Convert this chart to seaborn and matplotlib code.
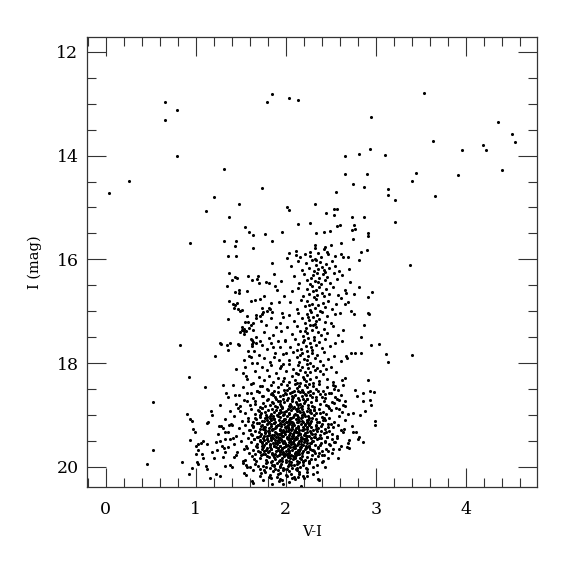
"""
cmd_plot.py

Colour-magnitude diagram (I vs V-I) redrawn from a published figure.
Star positions were read off the picture by eye, grouped by region.
"""

import matplotlib
matplotlib.use("Agg")
import matplotlib.pyplot as plt
import pandas as pd
import seaborn as sns
from matplotlib.ticker import MultipleLocator

# ---------------------------- DATA (V-I, I) ---------------------------

# bright / sparse stars, I < 15.8
bright = [
    (0.66, 12.96), (0.79, 13.13), (0.66, 13.32), (0.79, 14.00), (0.26, 14.49),
    (0.04, 14.72), (1.31, 14.26), (1.74, 14.63), (1.20, 14.79), (1.48, 14.94),
    (1.11, 15.06), (1.37, 15.18), (2.01, 15.00), (2.04, 15.04), (2.14, 15.31),
    (1.55, 15.38), (1.59, 15.47), (1.64, 15.53), (1.77, 15.52), (1.96, 15.47),
    (1.85, 15.65), (1.31, 15.64), (1.45, 15.65), (1.44, 15.74), (1.64, 15.78),
    (0.94, 15.68), (1.79, 12.97), (1.85, 12.82), (2.04, 12.89), (2.14, 12.93),
    (3.53, 12.80), (2.95, 13.25), (4.36, 13.36), (4.51, 13.58), (4.55, 13.73),
    (3.64, 13.71), (3.96, 13.89), (4.19, 13.80), (4.22, 13.90), (4.40, 14.27),
    (2.66, 14.00), (2.81, 13.96), (2.93, 13.87), (3.10, 13.98), (2.66, 14.36),
    (2.90, 14.36), (2.75, 14.55), (2.87, 14.61), (3.45, 14.33), (3.40, 14.49),
    (3.91, 14.38), (3.66, 14.77), (3.13, 14.65), (3.14, 14.76), (3.21, 14.85),
    (3.21, 15.29), (2.56, 14.71), (2.32, 14.94), (2.45, 15.10), (2.53, 15.14),
    (2.54, 15.03), (2.57, 15.03), (2.27, 15.30), (2.57, 15.35), (2.60, 15.33),
    (2.74, 15.19), (2.87, 15.19), (2.76, 15.33), (2.77, 15.42), (2.73, 15.43),
    (2.33, 15.50), (2.42, 15.48), (2.49, 15.46), (2.91, 15.49), (2.91, 15.56),
    (2.75, 15.60), (2.61, 15.69), (2.32, 15.72), (2.32, 15.78), (2.44, 15.76),
    (2.50, 15.72),
]

# blue arm and the gap between the two branches, 15.8 < I < 18.4
blue_arm = [
    (1.36, 15.94), (1.45, 15.93), (1.85, 16.07), (1.37, 16.27), (1.44, 16.35),
    (1.46, 16.36), (1.40, 16.39), (1.58, 16.32), (1.62, 16.39), (1.68, 16.37),
    (1.70, 16.46), (1.78, 16.43), (1.81, 16.46), (1.87, 16.28), (1.69, 16.33),
    (1.35, 16.51), (1.48, 16.59), (1.44, 16.63), (1.48, 16.65), (1.57, 16.62),
    (1.90, 16.60), (1.37, 16.80), (1.46, 16.85), (1.41, 16.86), (1.42, 16.93),
    (1.61, 16.80), (1.66, 16.78), (1.71, 16.77), (1.44, 16.89), (1.47, 16.96),
    (1.51, 16.98), (1.49, 16.99), (1.36, 17.15), (1.57, 17.10), (1.58, 17.20),
    (1.55, 17.21), (1.67, 17.07), (1.75, 17.02), (1.79, 16.99), (1.82, 16.96),
    (1.85, 17.02), (1.81, 16.93), (1.73, 17.05), (1.71, 17.09), (1.67, 17.13),
    (1.64, 17.23), (1.61, 17.26), (1.59, 17.32), (1.56, 17.39), (1.53, 17.39),
    (1.51, 17.36), (1.51, 17.30), (1.49, 17.40), (1.54, 17.35), (1.54, 17.44),
    (1.61, 17.54), (1.62, 17.63), (1.64, 17.60), (1.27, 17.62), (1.38, 17.61),
    (1.36, 17.74), (1.47, 17.63), (1.21, 17.87), (0.82, 17.66), (1.63, 17.36),
    (1.67, 17.49), (1.62, 17.55), (1.67, 17.61), (1.62, 17.68), (1.65, 17.77),
    (1.61, 17.89), (1.62, 18.00), (1.59, 17.87), (1.28, 17.63), (1.35, 17.65),
    (1.48, 17.66), (1.52, 18.19), (0.93, 18.26), (1.72, 17.18), (1.78, 17.27),
    (1.84, 17.14), (1.89, 17.31), (1.93, 17.22), (1.97, 17.12), (1.76, 17.41),
    (1.81, 17.52), (1.86, 17.45), (1.91, 17.58), (1.95, 17.39), (1.71, 17.57),
    (1.74, 17.66), (1.79, 17.73), (1.83, 17.62), (1.88, 17.80), (1.93, 17.69),
    (1.70, 17.84), (1.76, 17.91), (1.82, 17.97), (1.87, 17.88), (1.92, 17.95),
    (1.68, 17.99), (1.73, 18.07), (1.79, 18.14), (1.84, 18.04), (1.89, 18.19),
    (1.94, 18.10), (1.66, 18.16), (1.70, 18.27), (1.76, 18.32), (1.81, 18.24),
    (1.86, 18.36), (1.91, 18.29), (1.97, 18.35), (1.57, 18.31), (1.63, 18.38),
    (1.55, 18.08), (1.58, 17.76), (1.53, 17.95), (1.45, 18.12), (1.56, 18.24),
    (1.99, 17.55), (2.00, 17.81), (1.96, 17.04), (1.92, 16.82), (1.98, 16.70),
    (1.88, 16.52), (1.95, 16.41), (1.76, 16.70), (1.84, 16.85), (1.74, 16.94),
    (1.97, 18.02), (1.86, 17.70),
]

# red giant branch, 15.8 < I < 18.4
giant_branch = [
    (2.03, 15.88), (2.01, 15.98), (2.11, 15.83), (2.11, 15.92), (2.16, 15.96),
    (2.27, 15.85), (2.27, 15.94), (2.36, 15.87), (2.39, 15.95), (2.42, 15.81),
    (2.47, 15.90), (2.46, 15.86), (2.55, 15.93), (2.32, 15.99), (2.21, 15.90),
    (2.61, 15.89), (2.63, 15.96), (2.69, 15.96), (2.90, 15.82), (2.83, 15.85),
    (2.06, 16.12), (2.13, 16.04), (2.18, 16.20), (2.22, 16.08), (2.26, 16.16),
    (2.29, 16.02), (2.31, 16.23), (2.34, 16.10), (2.36, 16.18), (2.38, 16.05),
    (2.40, 16.14), (2.42, 16.21), (2.45, 16.09), (2.48, 16.17), (2.51, 16.03),
    (2.55, 16.13), (2.59, 16.22), (2.81, 16.02), (2.70, 16.19), (2.33, 16.01),
    (2.44, 16.24), (2.09, 16.33), (2.15, 16.45), (2.20, 16.28), (2.24, 16.39),
    (2.27, 16.47), (2.30, 16.31), (2.32, 16.42), (2.35, 16.26), (2.37, 16.36),
    (2.39, 16.48), (2.41, 16.29), (2.43, 16.40), (2.46, 16.34), (2.49, 16.46),
    (2.53, 16.27), (2.57, 16.38), (2.71, 16.44), (2.28, 16.36), (2.36, 16.44),
    (2.62, 16.31), (2.07, 16.62), (2.14, 16.55), (2.19, 16.70), (2.23, 16.58),
    (2.26, 16.67), (2.29, 16.52), (2.31, 16.73), (2.33, 16.60), (2.35, 16.68),
    (2.37, 16.54), (2.40, 16.64), (2.42, 16.71), (2.45, 16.57), (2.48, 16.66),
    (2.52, 16.53), (2.58, 16.69), (2.81, 16.54), (2.96, 16.63), (2.76, 16.67),
    (2.66, 16.60), (2.67, 16.65), (2.91, 16.73), (2.30, 16.62), (2.05, 16.83),
    (2.12, 16.96), (2.17, 16.78), (2.21, 16.90), (2.24, 16.81), (2.27, 16.98),
    (2.29, 16.86), (2.32, 16.93), (2.34, 16.77), (2.36, 16.88), (2.38, 16.99),
    (2.41, 16.84), (2.44, 16.92), (2.47, 16.80), (2.51, 16.95), (2.56, 16.87),
    (2.61, 16.75), (2.69, 16.82), (2.66, 16.86), (2.72, 17.00), (2.26, 16.89),
    (2.03, 17.08), (2.09, 17.19), (2.14, 17.03), (2.18, 17.14), (2.21, 17.22),
    (2.23, 17.06), (2.26, 17.17), (2.28, 17.01), (2.30, 17.11), (2.32, 17.24),
    (2.35, 17.07), (2.37, 17.16), (2.40, 17.02), (2.43, 17.20), (2.46, 17.10),
    (2.50, 17.23), (2.55, 17.05), (2.60, 17.04), (2.76, 17.05), (2.91, 17.03),
    (2.92, 17.06), (2.25, 17.12), (2.33, 17.18), (2.01, 17.31), (2.07, 17.44),
    (2.12, 17.28), (2.16, 17.38), (2.19, 17.47), (2.22, 17.33), (2.24, 17.42),
    (2.27, 17.27), (2.29, 17.36), (2.31, 17.49), (2.33, 17.30), (2.36, 17.40),
    (2.39, 17.46), (2.42, 17.34), (2.46, 17.43), (2.52, 17.29), (2.58, 17.45),
    (2.87, 17.27), (2.84, 17.49), (2.21, 17.39), (2.30, 17.26), (2.64, 17.37),
    (1.99, 17.58), (2.05, 17.70), (2.10, 17.53), (2.14, 17.64), (2.17, 17.73),
    (2.20, 17.56), (2.22, 17.67), (2.25, 17.52), (2.27, 17.61), (2.29, 17.74),
    (2.31, 17.55), (2.34, 17.66), (2.37, 17.59), (2.40, 17.71), (2.44, 17.54),
    (2.49, 17.68), (2.55, 17.62), (2.95, 17.66), (3.03, 17.64), (2.19, 17.60),
    (2.28, 17.69), (2.12, 17.75), (2.62, 17.57), (1.97, 17.83), (2.03, 17.95),
    (2.08, 17.78), (2.12, 17.89), (2.15, 17.98), (2.18, 17.81), (2.20, 17.92),
    (2.23, 17.77), (2.25, 17.86), (2.27, 17.99), (2.29, 17.80), (2.32, 17.91),
    (2.35, 17.84), (2.38, 17.96), (2.42, 17.79), (2.47, 17.93), (2.53, 17.87),
    (2.83, 17.81), (2.77, 17.81), (2.72, 17.81), (2.67, 17.86), (2.68, 17.91),
    (2.61, 17.96), (3.11, 17.83), (2.16, 17.85), (2.24, 17.94), (1.95, 18.06),
    (2.00, 18.15), (2.04, 18.02), (2.08, 18.11), (2.11, 18.19), (2.14, 18.04),
    (2.16, 18.13), (2.18, 18.08), (2.21, 18.17), (2.23, 18.01), (2.25, 18.10),
    (2.27, 18.18), (2.30, 18.05), (2.32, 18.14), (2.35, 18.09), (2.38, 18.16),
    (2.41, 18.03), (2.45, 18.12), (2.50, 18.07), (2.56, 18.18), (1.98, 18.28),
    (2.03, 18.36), (2.07, 18.24), (2.10, 18.33), (2.13, 18.21), (2.16, 18.38),
    (2.19, 18.27), (2.22, 18.35), (2.24, 18.23), (2.27, 18.31), (2.30, 18.38),
    (2.33, 18.26), (2.37, 18.34), (2.41, 18.22), (2.46, 18.30), (2.52, 18.37),
    (2.20, 18.30), (2.12, 18.39),
]

# main clump of faint stars, 18.4 < I < 20.4
core = [
    # 18.40 - 18.55
    (1.52, 18.47), (1.61, 18.41), (1.68, 18.53), (1.74, 18.44), (1.79, 18.50),
    (1.83, 18.42), (1.87, 18.54), (1.91, 18.46), (1.95, 18.40), (1.98, 18.51),
    (2.01, 18.43), (2.04, 18.48), (2.07, 18.55), (2.10, 18.41), (2.12, 18.49),
    (2.15, 18.45), (2.18, 18.52), (2.21, 18.42), (2.24, 18.47), (2.27, 18.54),
    (2.30, 18.44), (2.33, 18.50), (2.37, 18.41), (2.41, 18.53), (2.46, 18.46),
    (2.52, 18.43), (2.58, 18.51), (1.71, 18.45), (2.13, 18.53), (2.26, 18.40),
    # 18.55 - 18.70
    (1.48, 18.62), (1.57, 18.58), (1.64, 18.67), (1.70, 18.56), (1.75, 18.64),
    (1.80, 18.69), (1.84, 18.59), (1.88, 18.66), (1.91, 18.55), (1.94, 18.63),
    (1.97, 18.70), (2.00, 18.60), (2.02, 18.67), (2.05, 18.57), (2.08, 18.65),
    (2.10, 18.61), (2.13, 18.68), (2.16, 18.56), (2.18, 18.64), (2.21, 18.59),
    (2.24, 18.69), (2.27, 18.62), (2.30, 18.57), (2.34, 18.66), (2.38, 18.60),
    (2.43, 18.68), (2.48, 18.58), (2.55, 18.65), (2.61, 18.61), (1.86, 18.62),
    (2.07, 18.69), (2.19, 18.55), (1.99, 18.58), (2.29, 18.65),
    # 18.70 - 18.85
    (1.45, 18.78), (1.53, 18.72), (1.60, 18.81), (1.66, 18.74), (1.71, 18.84),
    (1.75, 18.77), (1.79, 18.71), (1.82, 18.80), (1.85, 18.75), (1.88, 18.83),
    (1.91, 18.73), (1.93, 18.79), (1.96, 18.85), (1.98, 18.76), (2.01, 18.71),
    (2.03, 18.82), (2.05, 18.78), (2.07, 18.73), (2.09, 18.84), (2.11, 18.76),
    (2.13, 18.80), (2.15, 18.72), (2.18, 18.83), (2.20, 18.77), (2.23, 18.70),
    (2.25, 18.81), (2.28, 18.75), (2.31, 18.84), (2.34, 18.72), (2.38, 18.79),
    (2.42, 18.74), (2.47, 18.82), (2.53, 18.77), (2.59, 18.71), (1.94, 18.74),
    (2.06, 18.83), (2.16, 18.78), (1.77, 18.82), (2.21, 18.73), (2.66, 18.83),
    # 18.85 - 19.00
    (1.38, 18.92), (1.47, 18.87), (1.55, 18.96), (1.61, 18.89), (1.66, 18.99),
    (1.70, 18.93), (1.74, 18.86), (1.77, 18.95), (1.80, 18.90), (1.83, 18.98),
    (1.85, 18.88), (1.87, 18.94), (1.90, 18.85), (1.92, 18.97), (1.94, 18.91),
    (1.96, 18.87), (1.98, 18.99), (2.00, 18.93), (2.02, 18.88), (2.04, 18.96),
    (2.06, 18.90), (2.08, 18.86), (2.10, 18.98), (2.12, 18.92), (2.14, 18.87),
    (2.16, 18.95), (2.18, 18.89), (2.20, 18.99), (2.23, 18.93), (2.25, 18.86),
    (2.28, 18.96), (2.31, 18.90), (2.34, 18.97), (2.37, 18.88), (2.41, 18.94),
    (2.45, 18.99), (2.50, 18.91), (2.56, 18.87), (2.62, 18.95), (1.89, 18.91),
    (2.03, 18.99), (2.11, 18.89), (2.19, 18.94), (1.95, 18.95), (2.27, 18.91),
    (1.72, 18.97),
    # 19.00 - 19.15
    (1.33, 19.07), (1.43, 19.02), (1.51, 19.11), (1.58, 19.05), (1.63, 19.14),
    (1.67, 19.08), (1.71, 19.01), (1.74, 19.12), (1.77, 19.06), (1.80, 19.15),
    (1.82, 19.03), (1.84, 19.10), (1.86, 19.05), (1.88, 19.13), (1.90, 19.00),
    (1.92, 19.09), (1.94, 19.04), (1.96, 19.12), (1.98, 19.07), (2.00, 19.14),
    (2.01, 19.02), (2.03, 19.10), (2.05, 19.06), (2.07, 19.13), (2.09, 19.01),
    (2.11, 19.08), (2.13, 19.04), (2.15, 19.11), (2.17, 19.06), (2.19, 19.14),
    (2.21, 19.03), (2.23, 19.09), (2.26, 19.05), (2.28, 19.12), (2.31, 19.01),
    (2.34, 19.08), (2.37, 19.14), (2.40, 19.04), (2.44, 19.10), (2.48, 19.06),
    (2.53, 19.13), (2.59, 19.02), (2.66, 19.09), (1.87, 19.08), (1.97, 19.01),
    (2.04, 19.12), (2.12, 19.14), (2.18, 19.00), (1.79, 19.10), (2.24, 19.13),
    (2.08, 19.04), (1.93, 19.15),
    # 19.15 - 19.30
    (1.28, 19.22), (1.39, 19.17), (1.48, 19.26), (1.55, 19.19), (1.60, 19.29),
    (1.64, 19.23), (1.68, 19.16), (1.71, 19.27), (1.74, 19.20), (1.77, 19.30),
    (1.79, 19.18), (1.81, 19.25), (1.83, 19.21), (1.85, 19.28), (1.87, 19.15),
    (1.89, 19.24), (1.91, 19.19), (1.93, 19.27), (1.95, 19.22), (1.97, 19.29),
    (1.98, 19.17), (2.00, 19.25), (2.02, 19.20), (2.04, 19.28), (2.05, 19.16),
    (2.07, 19.23), (2.09, 19.19), (2.11, 19.26), (2.13, 19.21), (2.15, 19.29),
    (2.17, 19.18), (2.19, 19.24), (2.21, 19.20), (2.23, 19.27), (2.25, 19.16),
    (2.28, 19.23), (2.30, 19.29), (2.33, 19.19), (2.36, 19.25), (2.39, 19.21),
    (2.43, 19.28), (2.47, 19.17), (2.52, 19.24), (2.58, 19.20), (2.65, 19.27),
    (2.73, 19.22), (1.84, 19.17), (1.94, 19.30), (2.01, 19.22), (2.08, 19.15),
    (2.14, 19.24), (2.20, 19.28), (1.76, 19.23), (1.88, 19.26), (2.26, 19.19),
    (2.03, 19.18), (2.10, 19.30), (1.62, 19.20),
    # 19.30 - 19.45
    (1.25, 19.37), (1.36, 19.32), (1.45, 19.41), (1.52, 19.35), (1.58, 19.44),
    (1.62, 19.38), (1.66, 19.31), (1.69, 19.42), (1.72, 19.36), (1.75, 19.45),
    (1.77, 19.33), (1.79, 19.40), (1.81, 19.35), (1.83, 19.43), (1.85, 19.30),
    (1.87, 19.39), (1.89, 19.34), (1.91, 19.42), (1.92, 19.37), (1.94, 19.44),
    (1.96, 19.32), (1.97, 19.40), (1.99, 19.36), (2.01, 19.43), (2.02, 19.31),
    (2.04, 19.38), (2.05, 19.34), (2.07, 19.41), (2.08, 19.37), (2.10, 19.44),
    (2.11, 19.32), (2.13, 19.39), (2.15, 19.35), (2.17, 19.42), (2.18, 19.30),
    (2.20, 19.38), (2.22, 19.44), (2.24, 19.33), (2.26, 19.40), (2.29, 19.36),
    (2.32, 19.43), (2.35, 19.31), (2.38, 19.39), (2.42, 19.35), (2.46, 19.42),
    (2.51, 19.37), (2.57, 19.44), (2.64, 19.32), (1.86, 19.44), (1.95, 19.38),
    (2.03, 19.45), (2.09, 19.33), (2.16, 19.37), (2.23, 19.41), (1.80, 19.31),
    (1.98, 19.33), (2.12, 19.44), (2.06, 19.30), (1.90, 19.36), (2.28, 19.45),
    (1.71, 19.40),
    # 19.45 - 19.60
    (1.22, 19.52), (1.33, 19.47), (1.42, 19.56), (1.50, 19.50), (1.56, 19.59),
    (1.61, 19.53), (1.65, 19.46), (1.68, 19.57), (1.71, 19.51), (1.74, 19.60),
    (1.76, 19.48), (1.78, 19.55), (1.80, 19.50), (1.82, 19.58), (1.84, 19.45),
    (1.86, 19.54), (1.88, 19.49), (1.90, 19.57), (1.92, 19.52), (1.93, 19.59),
    (1.95, 19.47), (1.97, 19.55), (1.98, 19.51), (2.00, 19.58), (2.02, 19.46),
    (2.03, 19.53), (2.05, 19.49), (2.06, 19.56), (2.08, 19.52), (2.10, 19.59),
    (2.11, 19.47), (2.13, 19.54), (2.15, 19.50), (2.17, 19.57), (2.18, 19.45),
    (2.20, 19.53), (2.22, 19.59), (2.24, 19.48), (2.27, 19.55), (2.29, 19.51),
    (2.32, 19.58), (2.35, 19.46), (2.39, 19.54), (2.43, 19.50), (2.48, 19.57),
    (2.54, 19.52), (2.61, 19.59), (2.80, 19.47), (1.87, 19.59), (1.96, 19.50),
    (2.04, 19.60), (2.09, 19.48), (2.14, 19.56), (2.21, 19.50), (1.79, 19.46),
    (1.99, 19.54), (2.07, 19.45), (2.12, 19.58), (1.91, 19.48), (2.26, 19.60),
    (1.73, 19.55),
    # 19.60 - 19.75
    (1.24, 19.67), (1.36, 19.62), (1.46, 19.71), (1.53, 19.65), (1.59, 19.74),
    (1.64, 19.68), (1.68, 19.61), (1.71, 19.72), (1.74, 19.66), (1.77, 19.75),
    (1.79, 19.63), (1.81, 19.70), (1.83, 19.65), (1.85, 19.73), (1.87, 19.60),
    (1.89, 19.69), (1.91, 19.64), (1.93, 19.72), (1.95, 19.67), (1.97, 19.74),
    (1.98, 19.62), (2.00, 19.70), (2.02, 19.66), (2.03, 19.73), (2.05, 19.61),
    (2.07, 19.68), (2.09, 19.64), (2.11, 19.71), (2.13, 19.67), (2.15, 19.75),
    (2.17, 19.62), (2.19, 19.69), (2.21, 19.65), (2.24, 19.72), (2.26, 19.60),
    (2.29, 19.68), (2.32, 19.74), (2.36, 19.63), (2.40, 19.70), (2.45, 19.66),
    (2.51, 19.73), (1.88, 19.75), (1.96, 19.63), (2.04, 19.69), (2.10, 19.74),
    (2.16, 19.65), (2.22, 19.61), (1.82, 19.61), (2.01, 19.75), (2.08, 19.62),
    (1.94, 19.70), (2.14, 19.73), (1.76, 19.69), (2.27, 19.66),
    # 19.75 - 19.90
    (1.30, 19.82), (1.45, 19.77), (1.55, 19.86), (1.62, 19.80), (1.67, 19.89),
    (1.71, 19.83), (1.75, 19.76), (1.78, 19.87), (1.81, 19.81), (1.83, 19.90),
    (1.86, 19.78), (1.88, 19.85), (1.90, 19.80), (1.92, 19.88), (1.94, 19.75),
    (1.96, 19.84), (1.98, 19.79), (2.00, 19.87), (2.02, 19.82), (2.04, 19.89),
    (2.06, 19.77), (2.08, 19.85), (2.10, 19.81), (2.12, 19.88), (2.14, 19.76),
    (2.16, 19.83), (2.18, 19.79), (2.21, 19.86), (2.23, 19.82), (2.26, 19.90),
    (2.29, 19.78), (2.32, 19.85), (2.36, 19.80), (2.41, 19.88), (2.47, 19.83),
    (1.85, 19.89), (1.97, 19.76), (2.05, 19.84), (2.11, 19.78), (2.19, 19.88),
    (1.79, 19.79), (1.93, 19.86), (2.01, 19.78), (2.15, 19.90),
    # 19.90 - 20.05
    (1.38, 19.97), (1.52, 19.92), (1.60, 20.01), (1.66, 19.95), (1.71, 20.04),
    (1.75, 19.98), (1.79, 19.91), (1.82, 20.02), (1.85, 19.96), (1.88, 20.05),
    (1.90, 19.93), (1.93, 20.00), (1.95, 19.94), (1.97, 20.03), (2.00, 19.90),
    (2.02, 19.99), (2.04, 19.95), (2.07, 20.02), (2.09, 19.97), (2.11, 20.04),
    (2.14, 19.92), (2.16, 20.00), (2.19, 19.96), (2.22, 20.03), (2.26, 19.93),
    (2.30, 20.01), (2.35, 19.97), (2.44, 20.01), (1.87, 19.99), (2.01, 20.05),
    (2.12, 19.94), (1.94, 19.98), (2.06, 19.91), (1.78, 20.00),
    # 20.05 - 20.40
    (1.63, 20.07), (1.71, 20.18), (1.77, 20.10), (1.82, 20.15), (1.86, 20.08),
    (1.90, 20.19), (1.94, 20.11), (1.97, 20.06), (2.00, 20.16), (2.03, 20.09),
    (2.06, 20.14), (2.09, 20.20), (2.12, 20.07), (2.15, 20.13), (2.19, 20.18),
    (2.24, 20.10), (2.14, 20.20), (2.20, 20.21), (1.91, 20.13), (1.81, 20.20),
    (2.23, 20.18), (2.30, 20.14), (1.62, 20.28), (1.64, 20.31), (1.75, 20.25),
    (1.85, 20.34), (1.92, 20.27), (1.96, 20.26), (1.97, 20.34), (2.03, 20.30),
    (2.10, 20.24), (2.17, 20.37), (2.36, 20.23), (2.37, 20.25),
]

# second pass over the clump: stars that fill the wide dark blob
core_fill = [
    (1.612, 18.583), (1.694, 18.912), (1.737, 18.641), (1.803, 18.527),
    (1.858, 18.774), (1.926, 18.968), (1.973, 18.612), (2.047, 18.853),
    (2.093, 18.539), (2.148, 18.927), (2.196, 18.688), (2.243, 18.561),
    (2.287, 18.832), (2.339, 18.719), (2.384, 18.964), (2.431, 18.598),
    (2.476, 18.871), (2.512, 18.746), (1.657, 18.789), (1.781, 18.996),
    (1.895, 18.701), (2.017, 18.518), (2.124, 18.784), (2.263, 18.952),
    (2.358, 18.547), (2.449, 18.806), (1.733, 18.873), (1.947, 18.822),
    (2.068, 18.631), (2.219, 18.608), (2.318, 18.903), (2.571, 18.692),
    (1.564, 18.731), (1.842, 18.569), (2.171, 18.843), (2.403, 18.658),
    (1.981, 18.947), (2.594, 18.887), (1.676, 18.534), (2.507, 18.571),
    (1.583, 19.124), (1.642, 19.457), (1.695, 19.703), (1.728, 19.218),
    (1.762, 19.586), (1.794, 19.031), (1.817, 19.392), (1.846, 19.748),
    (1.873, 19.164), (1.904, 19.517), (1.931, 19.286), (1.958, 19.662),
    (1.986, 19.073), (2.013, 19.441), (2.039, 19.789), (2.066, 19.196),
    (2.094, 19.553), (2.121, 19.327), (2.147, 19.694), (2.176, 19.108),
    (2.203, 19.472), (2.231, 19.239), (2.262, 19.617), (2.294, 19.052),
    (2.327, 19.368), (2.363, 19.731), (2.398, 19.184), (2.437, 19.529),
    (2.481, 19.306), (2.529, 19.648), (1.612, 19.368), (1.671, 19.591),
    (1.713, 19.047), (1.748, 19.279), (1.779, 19.672), (1.808, 19.145),
    (1.835, 19.489), (1.861, 19.263), (1.889, 19.617), (1.916, 19.012),
    (1.943, 19.348), (1.969, 19.723), (1.994, 19.226), (2.022, 19.578),
    (2.049, 19.117), (2.076, 19.402), (2.103, 19.761), (2.131, 19.251),
    (2.158, 19.624), (2.185, 19.037), (2.213, 19.383), (2.241, 19.712),
    (2.272, 19.154), (2.305, 19.498), (2.338, 19.271), (2.374, 19.587),
    (2.412, 19.093), (2.455, 19.433), (2.502, 19.169), (2.563, 19.402),
    (1.574, 19.639), (1.633, 19.208), (1.684, 19.423), (1.719, 19.779),
    (1.753, 19.114), (1.786, 19.473), (1.812, 19.302), (1.839, 19.656),
    (1.867, 19.087), (1.893, 19.428), (1.921, 19.768), (1.948, 19.183),
    (1.976, 19.531), (2.004, 19.314), (2.031, 19.687), (2.057, 19.061),
    (2.084, 19.359), (2.112, 19.722), (2.139, 19.138), (2.167, 19.506),
    (2.194, 19.284), (2.222, 19.642), (2.251, 19.021), (2.283, 19.347),
    (2.316, 19.689), (2.349, 19.128), (2.387, 19.451), (2.424, 19.772),
    (2.468, 19.236), (2.541, 19.518), (1.596, 19.297), (1.656, 19.746),
    (1.704, 19.162), (1.739, 19.519), (1.771, 19.351), (1.799, 19.707),
    (1.826, 19.066), (1.852, 19.384), (1.879, 19.543), (1.908, 19.197),
    (1.935, 19.601), (1.963, 19.413), (1.991, 19.758), (2.017, 19.142),
    (2.043, 19.483), (2.071, 19.267), (2.098, 19.632), (2.126, 19.009),
    (2.153, 19.371), (2.181, 19.738), (2.208, 19.173), (2.236, 19.538),
    (2.268, 19.317), (2.299, 19.674), (2.332, 19.209), (2.368, 19.447),
    (2.405, 19.763), (2.446, 19.328), (2.491, 19.582), (2.618, 19.294),
    (1.658, 19.051), (1.699, 19.336), (1.742, 19.627), (1.774, 19.242),
    (1.821, 19.564), (1.856, 19.019), (1.884, 19.326), (1.912, 19.681),
    (1.939, 19.459), (1.965, 19.109), (1.999, 19.607), (2.026, 19.233),
    (2.053, 19.521), (2.081, 19.794), (2.108, 19.418), (2.136, 19.076),
    (2.163, 19.459), (2.191, 19.589), (2.218, 19.341), (2.246, 19.098),
    (2.278, 19.546), (2.311, 19.423), (2.352, 19.611), (2.392, 19.317),
    (2.429, 19.052), (2.473, 19.694), (2.518, 19.457), (1.708, 19.478),
    (1.763, 19.414), (1.889, 19.213), (1.647, 19.853), (1.723, 20.127),
    (1.781, 19.934), (1.832, 20.213), (1.874, 19.817), (1.918, 20.062),
    (1.957, 19.889), (2.012, 20.174), (2.058, 19.968), (2.097, 19.832),
    (2.143, 20.106), (2.189, 19.913), (2.236, 20.041), (2.283, 19.847),
    (2.341, 20.092), (2.398, 19.902), (1.868, 19.973), (1.982, 20.037),
    (2.071, 20.219), (2.171, 19.859), (1.758, 20.053), (1.934, 20.243),
    (2.126, 20.018), (2.259, 19.881), (1.694, 19.982),
]

# sparse red side of the faint clump
red_tail = [
    (2.91, 18.33), (2.98, 18.56), (2.94, 18.53), (2.94, 18.71), (2.95, 18.81),
    (2.86, 18.58), (2.86, 18.74), (2.88, 18.93), (2.82, 19.01), (2.75, 18.96),
    (2.99, 19.11), (2.99, 19.20), (2.86, 19.53), (2.75, 19.33), (2.70, 19.48),
    (2.68, 19.62), (2.59, 19.66), (2.58, 19.83), (2.66, 18.29), (2.62, 18.33),
    (2.63, 18.42), (2.54, 18.50), (2.55, 18.45), (2.63, 18.80), (2.66, 18.74),
    (2.69, 18.98), (2.77, 18.51), (2.79, 18.64), (2.69, 19.54), (2.78, 19.33),
    (2.81, 19.42), (2.70, 19.64), (3.13, 17.97), (3.40, 17.84), (3.38, 16.10),
]

# sparse blue side of the faint clump
faint_blue = [
    (0.53, 18.75), (0.53, 19.67), (0.46, 19.94), (1.10, 18.47), (0.90, 18.99),
    (0.94, 19.08), (0.96, 19.11), (0.97, 19.28), (0.99, 19.32), (0.94, 19.48),
    (0.85, 19.91), (0.92, 20.14), (0.96, 20.03), (1.00, 19.60), (1.02, 19.67),
    (1.03, 19.57), (1.00, 19.75), (1.01, 19.91), (1.03, 19.94), (1.06, 19.54),
    (1.08, 19.50), (1.12, 19.57), (1.08, 19.84), (1.11, 19.99), (1.12, 20.05),
    (1.07, 19.75), (1.17, 18.93), (1.18, 19.01), (1.13, 19.15), (1.14, 19.14),
    (1.20, 19.84), (1.18, 19.72), (1.16, 20.22), (1.23, 20.13), (1.27, 20.17),
    (1.27, 18.80), (1.30, 18.42), (1.34, 18.57), (1.36, 18.65), (1.41, 18.43),
    (1.44, 18.62), (1.26, 19.22), (1.30, 19.26), (1.32, 19.32), (1.29, 19.59),
    (1.31, 19.64), (1.33, 19.71), (1.33, 19.98), (1.27, 19.51), (1.37, 19.19),
    (1.40, 19.19), (1.38, 19.46), (1.41, 19.44), (1.42, 19.82), (1.40, 20.01),
    (1.49, 18.92), (1.49, 18.82), (1.52, 19.89), (1.56, 19.96), (1.57, 20.00),
    (1.54, 20.12), (1.56, 20.16),
]

X_LIM = (-0.21, 4.79)
Y_LIM = (20.39, 11.71)   # magnitudes: bright at top

# ------------------------------ PLOT ----------------------------------


def build_frame():
    groups = [bright, blue_arm, giant_branch, core, core_fill,
              red_tail, faint_blue]
    rows = [p for g in groups for p in g]
    return pd.DataFrame(rows, columns=["V-I", "I"])


def main():
    df = build_frame()

    sns.set_style("ticks")
    plt.rcParams["font.family"] = ["DejaVu Serif"]

    fig = plt.figure(figsize=(5.75, 5.75), dpi=100)
    ax = fig.add_axes([0.151, 0.153, 0.783, 0.783])

    sns.scatterplot(data=df, x="V-I", y="I", ax=ax, color="black",
                    s=5, marker="o", linewidth=0, legend=False)

    ax.set_xlim(*X_LIM)
    ax.set_ylim(*Y_LIM)

    ax.xaxis.set_major_locator(MultipleLocator(1))
    ax.xaxis.set_minor_locator(MultipleLocator(0.2))
    ax.yaxis.set_major_locator(MultipleLocator(2))
    ax.yaxis.set_minor_locator(MultipleLocator(0.5))

    ax.tick_params(which="both", direction="in", top=True, right=True,
                   width=0.8, color="#333333", labelcolor="black",
                   labelsize=12.5)
    ax.tick_params(which="major", length=13.5)
    ax.tick_params(which="minor", length=6.7)
    ax.tick_params(axis="x", pad=10)
    ax.tick_params(axis="y", pad=6)

    for sp in ax.spines.values():
        sp.set_linewidth(0.9)
        sp.set_color("#333333")

    ax.set_xlabel("V-I", fontsize=10.5, labelpad=5, color="black")
    ax.set_ylabel("I (mag)", fontsize=10.5, color="black")
    ax.yaxis.set_label_coords(-0.10, 0.5)

    fig.savefig("out.png", dpi=100)
    plt.close(fig)


if __name__ == "__main__":
    main()
